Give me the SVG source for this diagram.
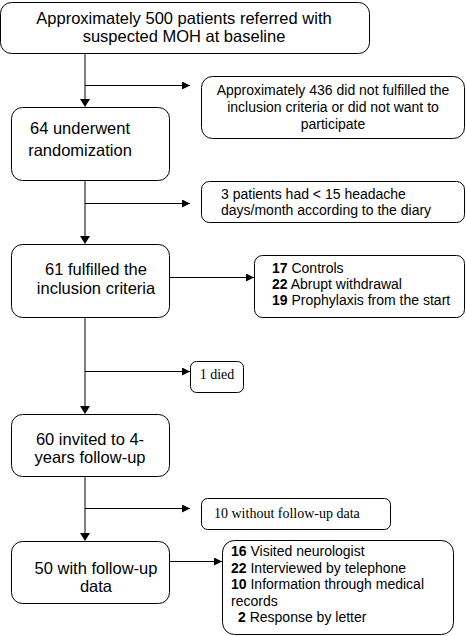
<svg xmlns="http://www.w3.org/2000/svg" width="466" height="636" viewBox="0 0 466 636">
<defs>
<marker id="ah" viewBox="0 0 10 10" refX="10" refY="5" markerWidth="8" markerHeight="8" markerUnits="userSpaceOnUse" orient="auto"><path d="M0,0 L10,5 L0,10 Z" fill="#000"/></marker>
<style>
.box{fill:#fff;stroke:#000;stroke-width:1}
.t{font-family:"Liberation Sans",Arial,sans-serif;fill:#000}
.big{font-size:16.5px}
.sm{font-size:14px}
.ser{font-family:"Liberation Serif","Times New Roman",serif;font-size:14px;fill:#000}
.main{stroke:#808080;stroke-width:2;fill:none}
.br{stroke:#000;stroke-width:1;fill:none}
.b{font-weight:bold}
</style>
</defs>
<rect width="466" height="636" fill="#fff"/>
<g id="connectors">
<line class="main" x1="85" y1="54" x2="85" y2="100"/>
<line class="main" x1="85" y1="181" x2="85" y2="237"/>
<line class="main" x1="85" y1="318" x2="85" y2="407"/>
<line class="main" x1="85" y1="477" x2="85" y2="534"/>
<path d="M80,99 L90,99 L85,107 Z" fill="#000"/>
<path d="M80,236 L90,236 L85,244 Z" fill="#000"/>
<path d="M80,406 L90,406 L85,414 Z" fill="#000"/>
<path d="M80,533 L90,533 L85,541 Z" fill="#000"/>
<line class="br" x1="85" y1="85.5" x2="190" y2="85.5" marker-end="url(#ah)"/>
<line class="br" x1="85" y1="203.5" x2="190" y2="203.5" marker-end="url(#ah)"/>
<line class="br" x1="170" y1="277.5" x2="254" y2="277.5" marker-end="url(#ah)"/>
<line class="br" x1="85" y1="371.5" x2="190" y2="371.5" marker-end="url(#ah)"/>
<line class="br" x1="85" y1="508.5" x2="190" y2="508.5" marker-end="url(#ah)"/>
<line class="br" x1="170" y1="561.5" x2="222" y2="561.5" marker-end="url(#ah)"/>
</g>
<g id="n1">
<rect class="box" x="0.5" y="2.5" width="369" height="51" rx="11"/>
<text class="t big" x="184" y="24" text-anchor="middle">Approximately 500 patients referred with</text>
<text class="t big" x="184" y="42" text-anchor="middle">suspected MOH at baseline</text>
</g>
<g id="n2">
<rect class="box" x="201.5" y="76.5" width="263" height="62" rx="11"/>
<text class="t sm" x="333" y="95" text-anchor="middle">Approximately 436 did not fulfilled the</text>
<text class="t sm" x="333" y="112" text-anchor="middle">inclusion criteria or did not want to</text>
<text class="t sm" x="333" y="129" text-anchor="middle">participate</text>
</g>
<g id="n3">
<rect class="box" x="11.5" y="107.5" width="158" height="73" rx="11"/>
<text class="t big" x="80" y="134" text-anchor="middle">64 underwent</text>
<text class="t big" x="80" y="156" text-anchor="middle">randomization</text>
</g>
<g id="n4">
<rect class="box" x="201.5" y="181.5" width="263" height="41" rx="8"/>
<text class="t sm" x="221" y="199">3 patients had &lt; 15 headache</text>
<text class="t sm" x="221" y="215">days/month according to the diary</text>
</g>
<g id="n5">
<rect class="box" x="11.5" y="244.5" width="158" height="73" rx="11"/>
<text class="t big" x="96" y="275" text-anchor="middle">61 fulfilled the</text>
<text class="t big" x="96" y="294" text-anchor="middle">inclusion criteria</text>
</g>
<g id="n6">
<rect class="box" x="254.5" y="255.5" width="210" height="62" rx="8"/>
<text class="t sm" x="272" y="273"><tspan class="b">17</tspan> Controls</text>
<text class="t sm" x="272" y="289"><tspan class="b">22</tspan> Abrupt withdrawal</text>
<text class="t sm" x="272" y="305"><tspan class="b">19</tspan> Prophylaxis from the start</text>
</g>
<g id="n7">
<rect class="box" x="190.5" y="361.5" width="53" height="31" rx="6"/>
<text class="ser" x="217" y="379" text-anchor="middle">1 died</text>
</g>
<g id="n8">
<rect class="box" x="11.5" y="414.5" width="158" height="62" rx="11"/>
<text class="t big" x="90" y="445" text-anchor="middle">60 invited to 4-</text>
<text class="t big" x="90" y="463" text-anchor="middle">years follow-up</text>
</g>
<g id="n9">
<rect class="box" x="201.5" y="498.5" width="189" height="31" rx="6"/>
<text class="ser" x="214" y="518">10 without follow-up data</text>
</g>
<g id="n10">
<rect class="box" x="11.5" y="541.5" width="158" height="62" rx="11"/>
<text class="t big" x="96" y="574" text-anchor="middle">50 with follow-up</text>
<text class="t big" x="96" y="592" text-anchor="middle">data</text>
</g>
<g id="n11">
<rect class="box" x="222.5" y="540.5" width="231" height="94" rx="12"/>
<text class="t sm" x="231" y="556"><tspan class="b">16</tspan> Visited neurologist</text>
<text class="t sm" x="231" y="573"><tspan class="b">22</tspan> Interviewed by telephone</text>
<text class="t sm" x="231" y="589"><tspan class="b">10</tspan> Information through medical</text>
<text class="t sm" x="231" y="606">records</text>
<text class="t sm" x="238" y="622"><tspan class="b">2</tspan> Response by letter</text>
</g>
</svg>
